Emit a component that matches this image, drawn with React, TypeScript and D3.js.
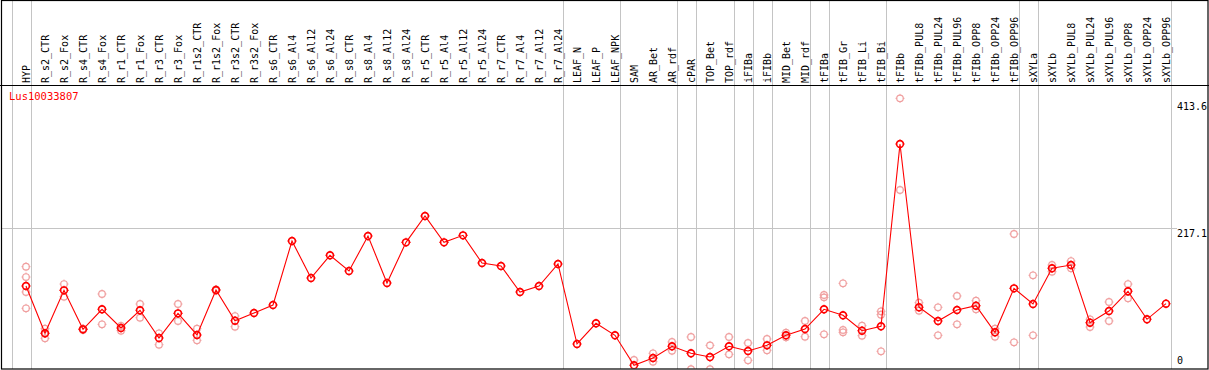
import React from "react";
import * as d3 from "d3";

const categories = [
  "HYP", "R_s2_CTR", "R_s2_Fox", "R_s4_CTR", "R_s4_Fox", "R_r1_CTR", "R_r1_Fox", "R_r3_CTR", "R_r3_Fox",
  "R_r1s2_CTR", "R_r1s2_Fox", "R_r3s2_CTR", "R_r3s2_Fox", "R_s6_CTR", "R_s6_Al4", "R_s6_Al12", "R_s6_Al24",
  "R_s8_CTR", "R_s8_Al4", "R_s8_Al12", "R_s8_Al24", "R_r5_CTR", "R_r5_Al4", "R_r5_Al12", "R_r5_Al24",
  "R_r7_CTR", "R_r7_Al4", "R_r7_Al12", "R_r7_Al24", "LEAF_N", "LEAF_P", "LEAF_NPK", "SAM", "AR_Bet", "AR_rdf",
  "cPAR", "TOP_Bet", "TOP_rdf", "iFIBa", "iFIBb", "MID_Bet", "MID_rdf", "tFIBa", "tFIB_Gr", "tFIB_Li", "tFIB_Bi",
  "tFIBb", "tFIBb_PUL8", "tFIBb_PUL24", "tFIBb_PUL96", "tFIBb_OPP8", "tFIBb_OPP24", "tFIBb_OPP96",
  "sXYLa", "sXYLb", "sXYLb_PUL8", "sXYLb_PUL24", "sXYLb_PUL96", "sXYLb_OPP8", "sXYLb_OPP24", "sXYLb_OPP96",
];

const meanValues = [
  126.8, 53.2, 120.1, 59.4, 90.6, 61.5, 89.0, 45.9, 84.3, 50.6, 120.6, 72.8, 84.8, 97.3, 196.9, 139.3, 174.6,
  150.2, 204.6, 131.5, 194.8, 235.8, 194.8, 205.7, 162.6, 158.0, 117.5, 126.8, 161.1, 36.6, 68.8, 50.1,
  3.4, 14.8, 33.0, 22.1, 16.3, 33.0, 25.7, 34.5, 50.1, 59.9, 90.6, 81.2, 57.3, 64.1, 347.8, 93.7, 72.4,
  89.5, 96.2, 54.8, 123.2, 98.8, 154.4, 159.5, 69.7, 87.9, 118.6, 75.0, 99.3,
];

const replicateValues: number[][] = [
  [156.9, 140.8, 117.5, 92.1], [60.4, 45.4, 53.0], [129.9, 110.2], [60.5, 58.5], [114.4, 67.2],
  [64.6, 57.3], [98.8, 77.5], [53.2, 35.5], [98.8, 72.4], [60.4, 42.3], [121.5, 119.5], [80.1, 63.5],
  [], [], [], [], [], [], [], [], [], [], [], [], [], [], [], [], [], [], [], [],
  [11.7], [22.1, 9.0], [39.7, 26.1], [47.5, -2.5], [34.5, -2.5], [47.5, 20.5], [38.1, 11.2], [44.4, 26.8],
  [54.2, 47.0], [72.4, 47.9], [112.8, 109.2, 51.7], [131.0, 58.4, 54.8], [65.0, 49.5], [87.5, 82.2, 25.2],
  [418.9, 276.2], [100.8, 88.4], [93.7, 50.1], [111.3, 67.2], [104.0, 90.6], [60.4, 47.9], [207.8, 39.2],
  [143.5, 50.1], [159.5, 149.1], [165.7, 154.4], [75.0, 63.0], [101.9, 72.4], [129.9, 107.7], [], [],
];

// indices of the last column of each group (separator drawn after it)
const groupEnds = [-1, 0, 28, 31, 34, 35, 37, 38, 39, 41, 42, 45, 52, 53, 60];

const yTickValues = [413.6, 217.1, 0];
const yTickLabels = ["413.6", "217.1", "0"];
const gridValues = [217.1];
const geneName = "Lus10033807";

const W = 1209;
const H = 370;
const FONT = "'DejaVu Sans Mono', monospace";

export default function App() {
  const x = d3.scaleLinear().domain([0, categories.length - 1]).range([26, 1166]);
  const y = d3.scaleLinear().domain([0, 217.1]).range([367.5, 228]);
  const line = d3
    .line<number>()
    .x((_, i) => x(i))
    .y((d) => y(d));

  const ticks = (cx: number, cy: number, r: number, color: string, sw: number) => (
    <g stroke={color} strokeWidth={sw}>
      <line x1={cx} y1={cy - r - 1.2} x2={cx} y2={cy - r + 0.5} />
      <line x1={cx} y1={cy + r - 0.5} x2={cx} y2={cy + r + 1.2} />
      <line x1={cx - r - 1.2} y1={cy} x2={cx - r + 0.5} y2={cy} />
      <line x1={cx + r - 0.5} y1={cy} x2={cx + r + 1.2} y2={cy} />
    </g>
  );

  return (
    <svg
      width={W}
      height={H}
      style={{ position: "absolute", left: 0, top: 0, background: "#fff" }}
      fontFamily={FONT}
    >
      <defs>
        <clipPath id="plotClip">
          <rect x={1.5} y={86} width={1206} height={282.5} />
        </clipPath>
      </defs>
      <rect x={0} y={0} width={W} height={H} fill="#fff" />
      {/* vertical group separators */}
      {groupEnds.map((k) => (
        <line
          key={"g" + k}
          x1={Math.round(x(k + 0.25)) + 0.5}
          x2={Math.round(x(k + 0.25)) + 0.5}
          y1={0}
          y2={369}
          stroke="#c4c4c4"
          strokeWidth={1}
        />
      ))}
      {/* horizontal grid */}
      {gridValues.map((v) => (
        <line key={"h" + v} x1={1} x2={1177} y1={Math.round(y(v)) + 0.5} y2={Math.round(y(v)) + 0.5} stroke="#c4c4c4" />
      ))}
      {/* header labels */}
      {categories.map((c, i) => (
        <text
          key={c}
          transform={`translate(${x(i)},83) rotate(-90)`}
          dy="0.35em"
          fontSize={10}
          fill="#000"
        >
          {c}
        </text>
      ))}
      <g clipPath="url(#plotClip)">
        {/* replicates */}
        {replicateValues.map((reps, i) =>
          reps.map((v, j) => (
            <g key={`r${i}-${j}`}>
              <circle cx={x(i)} cy={y(v)} r={3.3} fill="none" stroke="#f0a0a0" strokeWidth={1.2} />
              {ticks(x(i), y(v), 3.3, "#f0a0a0", 1)}
            </g>
          ))
        )}
        {/* mean line */}
        <path d={line(meanValues) || ""} fill="none" stroke="#ff0000" strokeWidth={1.1} />
        {meanValues.map((v, i) => (
          <g key={"m" + i}>
            <circle cx={x(i)} cy={y(v)} r={3.4} fill="none" stroke="#ff0000" strokeWidth={1.6} />
            {ticks(x(i), y(v), 3.4, "#ff0000", 1.1)}
          </g>
        ))}
      </g>
      {/* gene name */}
      <text x={9} y={96.5} dy="0.35em" fontSize={10.5} fill="#ff0000">
        {geneName}
      </text>
      {/* y labels */}
      {yTickValues.map((v, i) => (
        <text
          key={"t" + i}
          x={1177}
          y={v === 0 ? y(v) - 3.5 : y(v) + 1.5}
          dominantBaseline={v === 0 ? "auto" : "hanging"}
          fontSize={10}
          fill="#000"
        >
          {yTickLabels[i]}
        </text>
      ))}
      {/* borders */}
      <line x1={0} x2={W} y1={85.5} y2={85.5} stroke="#000" strokeWidth={1} />
      <rect x={1.5} y={0.5} width={1206.5} height={368.5} fill="none" stroke="#000" strokeWidth={1.2} />
    </svg>
  );
}
